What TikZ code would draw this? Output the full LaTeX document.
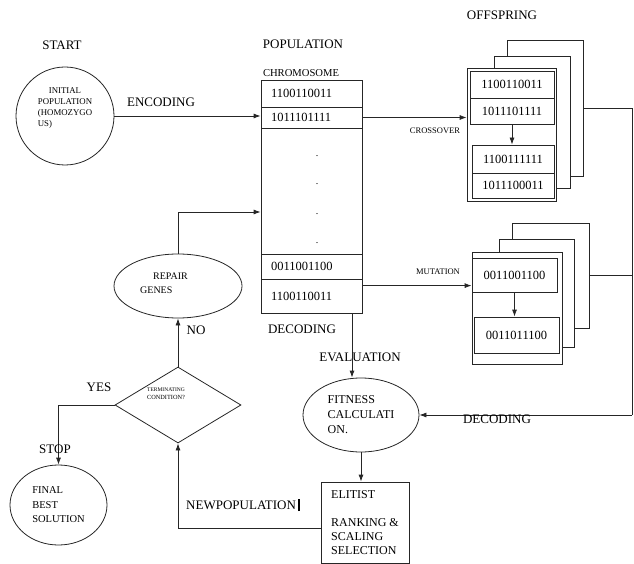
\documentclass[tikz,border=0pt]{standalone}
\usepackage{fontspec}
\setmainfont{Liberation Serif}
\usetikzlibrary{arrows.meta,shapes.geometric}

\newcommand{\fsz}[2]{\fontsize{#1}{#2}\selectfont}

\begin{document}
\begin{tikzpicture}[x=1pt, y=-1pt, line width=0.8pt, draw=black!85,
    >={Latex[length=7pt,width=5pt]},
    every node/.style={font=\fsz{13}{15}},
    row/.style={rectangle, draw, fill=white, text width=81pt, inner xsep=10pt, inner ysep=0pt, align=left, font=\fsz{12.5}{14}},
    gene/.style={rectangle, draw, fill=white, inner sep=0pt, font=\fsz{12.5}{14}},
    sheet/.style={rectangle, draw, fill=white, inner sep=0pt},
    tag/.style={font=\fsz{8.5}{10}}]
    \useasboundingbox (0,0) rectangle (634,564);

    % headings
    \node (start) at (62,45) {START};
    \node (poplbl) at (303,44) {POPULATION};
    \node[font=\fsz{10.6}{12}] (chromlbl) at (301,73) {CHROMOSOME};
    \node (offlbl) at (502,15) {OFFSPRING};

    % start of the run
    \node[circle, draw, minimum size=98pt, label={[yshift=8pt, align=left, font=\fsz{8.8}{11}]center:\hspace*{11pt}INITIAL\\POPULATION\\(HOMOZYGO\\US)}] (init) at (65,116) {};

    % population of chromosomes
    \node[row, minimum height=27pt] (pop1) at (311.5,93.5) {1100110011};
    \node[row, minimum height=21pt] (pop2) at (311.5,117.5) {1011101111};
    \node[row, minimum height=126pt] (pop3) at (311.5,191) {};
    \node[row, minimum height=25pt] (pop4) at (311.5,266.5) {0011001100};
    \node[row, minimum height=34pt] (pop5) at (311.5,296) {1100110011};
    \foreach \y in {156,184,214,243}
        \node[font=\fsz{10}{10}] (dot\y) at (317,\y) {.};

    % crossover offspring
    \node[sheet, minimum width=76pt, minimum height=136pt] (xback) at (545,108) {};
    \node[sheet, minimum width=76pt, minimum height=132pt] (xmid) at (532,122) {};
    \node[sheet, minimum width=89pt, minimum height=133pt] (xfront) at (511.5,134.5) {};
    \node[gene, minimum width=84pt, minimum height=27pt] (xa1) at (512,84.5) {1100110011};
    \node[gene, minimum width=84pt, minimum height=26pt] (xa2) at (512,111) {1011101111};
    \node[gene, minimum width=82pt, minimum height=28pt] (xb1) at (513,159) {1100111111};
    \node[gene, minimum width=82pt, minimum height=25pt] (xb2) at (513,185.5) {1011100011};
    \draw[->] (xa2.south) -- (xa2.south |- xb1.north);

    % mutation offspring
    \node[sheet, minimum width=77pt, minimum height=105pt] (mback) at (550.5,275.5) {};
    \node[sheet, minimum width=75pt, minimum height=108pt] (mmid) at (536.5,293) {};
    \node[sheet, minimum width=90pt, minimum height=112pt] (mfront) at (517,308) {};
    \node[gene, minimum width=85pt, minimum height=34pt] (m1) at (514.5,275) {0011001100};
    \node[gene, minimum width=85pt, minimum height=36pt] (m2) at (516.5,335) {0011011100};
    \draw[->] (m1.south) -- (m1.south |- m2.north);

    % evaluation and selection
    \node[ellipse, draw, minimum width=116pt, minimum height=74pt, inner sep=0pt, align=left, font=\fsz{12}{15}] (fit) at (361,415) {FITNESS\\CALCULATI\\ON.};
    \node[rectangle, draw, minimum width=88pt, minimum height=81pt, align=left, font=\fsz{12}{14}] (elit) at (365,522.5) {ELITIST\\ \\RANKING \&\\SCALING\\SELECTION};
    \node[diamond, draw, minimum width=126pt, minimum height=76pt, inner sep=0pt, label={[xshift=-12pt, yshift=11pt, align=center, font=\fsz{6.3}{8}]center:{\fsz{5.5}{8}TERMINATING}\\CONDITION?}] (term) at (178,405) {};
    \node[ellipse, draw, minimum width=128pt, minimum height=64pt, inner sep=0pt, label={[xshift=-14pt, yshift=3pt, align=left, font=\fsz{10}{14}]center:\hspace*{13pt}REPAIR\\GENES}] (repair) at (178,286) {};
    \node[ellipse, draw, minimum width=97pt, minimum height=80pt, inner sep=0pt, align=left, font=\fsz{10.5}{14.5}] (final) at (58.5,505) {FINAL\\BEST\\SOLUTION};

    \coordinate (rtop) at (632,108);
    \coordinate (rbot) at (632,415);

    % connectors
    \draw[->] (init.east) -- (init.east -| pop2.west);
    \node (enclbl) at (161,102) {ENCODING};
    \draw[->] (pop2.east) -- (pop2.east -| xfront.west);
    \node[tag] (xlbl) at (435,131) {CROSSOVER};
    \draw[->] ([yshift=-7pt]pop5.north east) -- ([yshift=-7pt]pop5.north east -| mfront.west);
    \node[tag] (mlbl) at (438,272) {MUTATION};
    \draw (xback.east) -- (rtop) -- (rbot);
    \draw (mback.east) -- (mback.east -| rtop);
    \draw[->] (rbot) -- (fit.east);
    \node (dec2lbl) at (497,419) {DECODING};
    \node (declbl) at (302,329) {DECODING};
    \draw[->] ([xshift=40.5pt]pop5.south) -- ([xshift=-9pt]fit.north);
    \node (evallbl) at (360,357) {EVALUATION};
    \draw[->] (fit.south) -- (fit.south |- elit.north);
    \draw[->] ([yshift=-5.5pt]elit.west) -| (term.south);
    \node (newlbl) at (243,505) {NEWPOPULATION\,\rule[-1.5pt]{1.6pt}{12pt}};
    \draw[->] (term.north) -- (repair.south);
    \node (nolbl) at (196,330) {NO};
    \draw[->] (repair.north) |- ([yshift=-21pt]pop3.west);
    \draw[->] (term.west) -| (final.north);
    \node (yeslbl) at (99,387) {YES};
    \node (stoplbl) at (55,449) {STOP};
\end{tikzpicture}
\end{document}
